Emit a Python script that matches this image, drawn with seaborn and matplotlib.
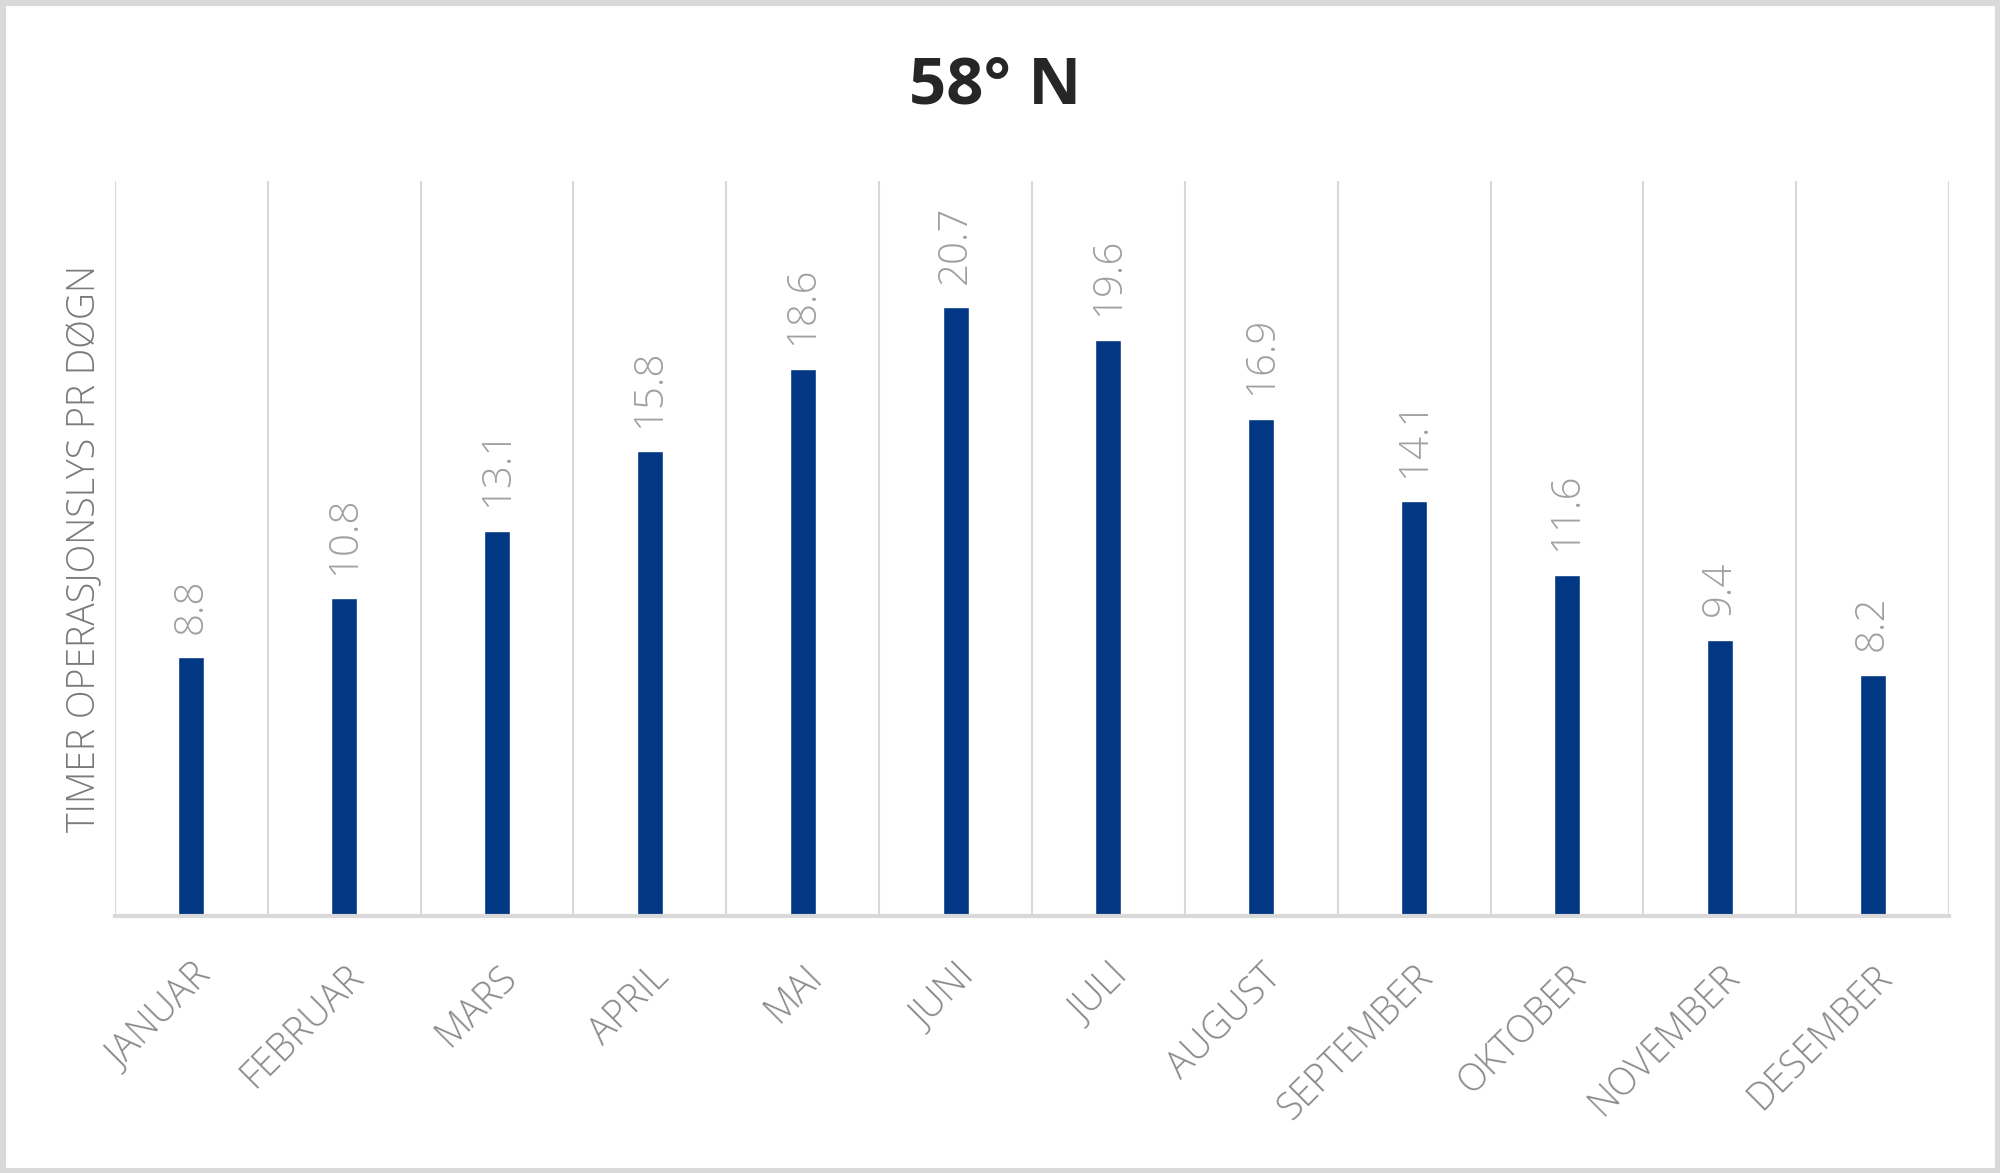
import matplotlib
matplotlib.use("Agg")
import matplotlib.pyplot as plt
import seaborn as sns
import pandas as pd
from matplotlib.patches import Rectangle

months = ["JANUAR", "FEBRUAR", "MARS", "APRIL", "MAI", "JUNI", "JULI",
          "AUGUST", "SEPTEMBER", "OKTOBER", "NOVEMBER", "DESEMBER"]
hours = [8.8, 10.8, 13.1, 15.8, 18.6, 20.7, 19.6, 16.9, 14.1, 11.6, 9.4, 8.2]
title = "58° N"
ylabel = "TIMER OPERASJONSLYS PR DØGN"

sns.set_theme(style="white")
plt.rcParams['font.family'] = ['Open Sans', 'DejaVu Sans']

df = pd.DataFrame({"month": months, "hours": hours})

fig = plt.figure(figsize=(20, 11.73), dpi=100)
ax = fig.add_axes([0.0575, 0.219, 0.917, 0.627])

sns.barplot(data=df, x="month", y="hours", color="#023883", width=0.17,
            saturation=1, ax=ax)

ax.set_ylim(0, 25)
ax.set_xlim(-0.5, len(months) - 0.5)
ax.set_yticks([])
ax.set_xticks(range(len(months)))
ax.set_xticklabels(months, rotation=45, ha="right", rotation_mode="anchor",
                   fontsize=27, color="#8a8a8a", fontweight="light")
ax.tick_params(axis="x", length=0, pad=30)
ax.set_xlabel("")
ax.set_ylabel(ylabel, fontsize=27, color="#7a7a7a", labelpad=8,
              fontweight="light")

# vertical gridlines at category boundaries
ax.set_xticks([i - 0.5 for i in range(len(months) + 1)], minor=True)
ax.grid(True, which="minor", axis="x", color="#d9d9d9", linewidth=1.5)
ax.grid(False, which="major")
ax.tick_params(axis="x", which="minor", length=0)

for s in ["top", "right", "left"]:
    ax.spines[s].set_visible(False)
ax.spines["bottom"].set_color("#d9d9d9")
ax.spines["bottom"].set_linewidth(3)

for i, v in enumerate(hours):
    ax.annotate(f"{v:.1f}", (i, v), xytext=(0, 17), textcoords="offset points",
                rotation=90, ha="center", va="bottom", fontsize=29,
                color="#a0a0a0", fontweight="light")

fig.text(0.4975, 0.926, title, ha="center", va="center", fontsize=47,
         fontweight="bold", color="#262626")

fig.patches.append(Rectangle((0, 0), 1, 1, transform=fig.transFigure,
                             fill=False, edgecolor="#d9d9d9", linewidth=8))

fig.savefig("out.png", dpi=100, facecolor="white")
